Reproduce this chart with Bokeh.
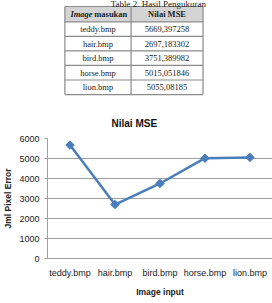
import math
from bokeh.plotting import figure
from bokeh.layouts import column
from bokeh.models import Range1d, FactorRange
from bokeh.core.properties import value
from bokeh.embed import file_html
from bokeh.resources import INLINE

# ---- data ----
images = ["teddy.bmp", "hair.bmp", "bird.bmp", "horse.bmp", "lion.bmp"]
mse = [5669.397258, 2697.183302, 3751.389982, 5015.051846, 5055.08185]
mse_labels = ["5669,397258", "2697,183302", "3751,389982", "5015,051846", "5055,08185"]
y_ticks = [0, 1000, 2000, 3000, 4000, 5000, 6000]

caption = "Table 2. Hasil Pengukuran"
col1_head_a = "Image"
col1_head_b = "masukan"
col2_head = "Nilai MSE"
chart_title = "Nilai MSE"
x_title = "Image input"
y_title = "Jml Pixel Error"

SERIF = value("Liberation Serif")
SANS = "Liberation Sans"
BLUE = "#4a7ebb"

# ---- table figure (pixel coordinates) ----
TW, TH = 272, 105
t = figure(width=TW, height=TH, x_range=Range1d(0, TW), y_range=Range1d(TH, 0),
           output_backend="svg", toolbar_location=None,
           min_border=0, x_axis_type=None, y_axis_type=None)
t.grid.visible = False
t.outline_line_color = None
t.background_fill_color = "white"
t.border_fill_color = "white"

left, mid, right = 21, 101, 188
top, head_bottom = 6, 21.3
row_h = 14.55
n = len(images)
row_lines = [top, head_bottom] + [head_bottom + row_h * (i + 1) for i in range(n)]
bottom = row_lines[-1]

t.quad(left=[left], right=[right], top=[top], bottom=[head_bottom],
       fill_color="#d4d4d4", line_color=None)
t.segment(x0=[left] * len(row_lines), x1=[right] * len(row_lines),
          y0=row_lines, y1=row_lines, line_color="#8a8a8a", line_width=1.2)
t.segment(x0=[left, mid, right], x1=[left, mid, right],
          y0=[top] * 3, y1=[bottom] * 3, line_color="#8a8a8a", line_width=1.2)

t.text(x=[134], y=[3.2], text=[caption], text_font=SERIF, text_font_size="9px",
       text_align="center", text_baseline="alphabetic", text_color="#222222")

hy = (top + head_bottom) / 2
t.text(x=[54.5], y=[hy], text=[col1_head_a], text_font=SERIF, text_font_size="8.5px",
       text_font_style="bold italic", text_align="right", text_baseline="middle",
       text_color="#222222")
t.text(x=[56.5], y=[hy], text=[col1_head_b], text_font=SERIF, text_font_size="8.5px",
       text_font_style="bold", text_align="left", text_baseline="middle",
       text_color="#222222")
t.text(x=[(mid + right) / 2], y=[hy], text=[col2_head], text_font=SERIF,
       text_font_size="8.5px", text_font_style="bold", text_align="center",
       text_baseline="middle", text_color="#222222")

ry = [head_bottom + row_h * (i + 0.5) for i in range(n)]
t.text(x=[(left + mid) / 2] * n, y=ry, text=images, text_font=SERIF,
       text_font_size="8.5px", text_align="center", text_baseline="middle",
       text_color="#222222")
t.text(x=[(mid + right) / 2] * n, y=ry, text=mse_labels, text_font=SERIF,
       text_font_size="8.5px", text_align="center", text_baseline="middle",
       text_color="#222222")

# ---- chart figure ----
p = figure(width=272, height=303 - TH, x_range=FactorRange(*images, range_padding=0),
           y_range=Range1d(0, 6000), output_backend="svg", toolbar_location=None,
           min_border_left=43, min_border_right=0, min_border_top=33,
           min_border_bottom=45)
p.outline_line_color = None
p.background_fill_color = "white"
p.border_fill_color = "white"

p.title.text = chart_title
p.title.align = "left"
p.title.offset = 64
p.title.standoff = 19
p.title.text_font = SANS
p.title.text_font_size = "10px"
p.title.text_font_style = "bold"
p.title.text_color = "#111111"

p.xgrid.visible = False
p.ygrid.grid_line_color = "#a0a0a0"
p.ygrid.grid_line_width = 1
p.yaxis.ticker = y_ticks

for ax in (p.xaxis[0], p.yaxis[0]):
    ax.axis_line_color = "#a0a0a0"
    ax.major_tick_line_color = "#a0a0a0"
    ax.minor_tick_line_color = None
    ax.major_tick_in = 0
    ax.major_label_text_font = SANS
    ax.major_label_text_font_size = "9px"
    ax.major_label_text_color = "#222222"
    ax.axis_label_text_font = SANS
    ax.axis_label_text_font_size = "8.5px"
    ax.axis_label_text_font_style = "bold"
    ax.axis_label_text_color = "#222222"

p.yaxis.major_tick_out = 3
p.yaxis.major_label_standoff = 5
p.yaxis.axis_label = y_title
p.yaxis.axis_label_standoff = 3

p.xaxis.major_tick_out = 0
p.xaxis.major_label_standoff = 9
p.xaxis.axis_label = x_title
p.xaxis.axis_label_standoff = 6

p.line(x=images, y=mse, line_color=BLUE, line_width=2.5)
p.scatter(x=images, y=mse, marker="square", angle=math.pi / 4, size=6,
          fill_color=BLUE, line_color=BLUE)

layout = column(t, p, spacing=0)
open("out.html", "w").write(file_html(layout, INLINE))
